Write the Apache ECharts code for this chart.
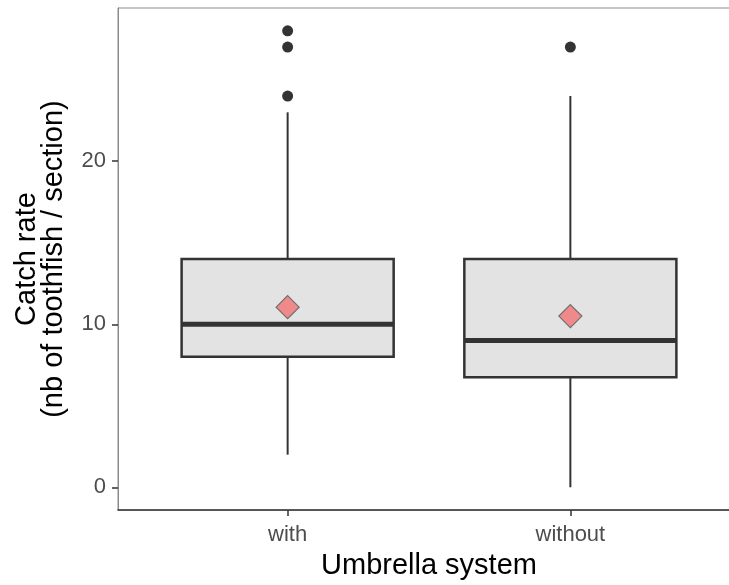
<!DOCTYPE html>
<html>
<head>
<meta charset="utf-8">
<script src="https://cdn.jsdelivr.net/npm/echarts@6/dist/echarts.min.js"></script>
<style>html,body{margin:0;padding:0;background:#fff;overflow:hidden;width:729px;height:585px}#c{width:742px;height:585px}</style>
</head>
<body>
<div id="c"></div>
<script>
// Data
var categories = ['with', 'without'];
var whiskerLow = [2, 0];
var q1 = [8, 6.75];
var median = [10, 9];
var q3 = [14, 14];
var whiskerHigh = [23, 24];
var means = [11.05, 10.5];
var outlierCat = [0, 0, 0, 1];
var outlierVal = [24, 27, 28, 27];
var yTicks = [0, 10, 20];

var boxData = categories.map(function (c, i) {
  return [i + 1, whiskerLow[i], q1[i], median[i], q3[i], whiskerHigh[i]];
});
var outlierData = outlierCat.map(function (c, i) { return [c + 1, outlierVal[i]]; });
var meanData = means.map(function (m, i) { return [i + 1, m]; });

var chart = echarts.init(document.getElementById('c'), null, {renderer: 'canvas'});
var FONT = '"Liberation Sans", Arial, sans-serif';
chart.setOption({
  animation: false,
  backgroundColor: '#ffffff',
  grid: {left: 118, top: 8, width: 622, bottom: 73, show: true, borderColor: '#8a8a8a', borderWidth: 1, backgroundColor: 'transparent'},
  xAxis: {
    type: 'value', min: 0.4, max: 2.6,
    axisLine: {show: true, onZero: false, lineStyle: {color: '#333333', width: 1.5}},
    axisTick: {show: true, length: 6, lineStyle: {color: '#333333', width: 1.5}, customValues: [1, 2]},
    axisLabel: {customValues: [1, 2], margin: 14, fontSize: 22, color: '#4d4d4d', fontFamily: FONT,
      formatter: function (v) { return categories[Math.round(v) - 1] || ''; }},
    splitLine: {show: false},
    name: 'Umbrella system', nameLocation: 'middle', nameGap: 39,
    nameTextStyle: {fontSize: 29, color: '#000', fontFamily: FONT}
  },
  yAxis: {
    type: 'value', min: -1.4, max: 29.4,
    axisLine: {show: true, onZero: false, lineStyle: {color: '#8a8a8a', width: 1}},
    axisTick: {show: true, length: 6, lineStyle: {color: '#333333', width: 1.5}, customValues: yTicks},
    axisLabel: {customValues: yTicks, margin: 12, fontSize: 22, color: '#4d4d4d', fontFamily: FONT},
    splitLine: {show: false},
    name: 'Catch rate\n(nb of toothfish / section)', nameLocation: 'middle', nameGap: 51,
    nameTextStyle: {fontSize: 29, color: '#000', fontFamily: FONT, lineHeight: 27}
  },
  series: [
    {
      type: 'custom',
      data: boxData,
      encode: {x: 0, y: [1, 2, 3, 4, 5]},
      renderItem: function (params, api) {
        var x = api.value(0);
        var w = api.size([0.75, 0])[0];
        var pLow = api.coord([x, api.value(1)]);
        var pQ1 = api.coord([x, api.value(2)]);
        var pMed = api.coord([x, api.value(3)]);
        var pQ3 = api.coord([x, api.value(4)]);
        var pHigh = api.coord([x, api.value(5)]);
        var cx = pQ1[0];
        var line = {stroke: '#333333', lineWidth: 2};
        return {
          type: 'group',
          children: [
            {type: 'line', shape: {x1: cx, y1: pHigh[1], x2: cx, y2: pQ3[1]}, style: line},
            {type: 'line', shape: {x1: cx, y1: pQ1[1], x2: cx, y2: pLow[1]}, style: line},
            {type: 'rect', shape: {x: cx - w / 2, y: pQ3[1], width: w, height: pQ1[1] - pQ3[1]},
              style: {fill: '#e3e3e3', stroke: '#333333', lineWidth: 2.5}},
            {type: 'line', shape: {x1: cx - w / 2, y1: pMed[1], x2: cx + w / 2, y2: pMed[1]},
              style: {stroke: '#333333', lineWidth: 5}}
          ]
        };
      },
      z: 2
    },
    {
      type: 'scatter', data: outlierData, symbol: 'circle', symbolSize: 11,
      itemStyle: {color: '#333333', opacity: 1}, z: 3
    },
    {
      type: 'scatter', data: meanData, symbol: 'diamond', symbolSize: [23, 23],
      itemStyle: {color: '#f08a8a', borderColor: '#6e6e6e', borderWidth: 1.2, opacity: 1}, z: 4
    }
  ]
});
</script>
</body>
</html>
